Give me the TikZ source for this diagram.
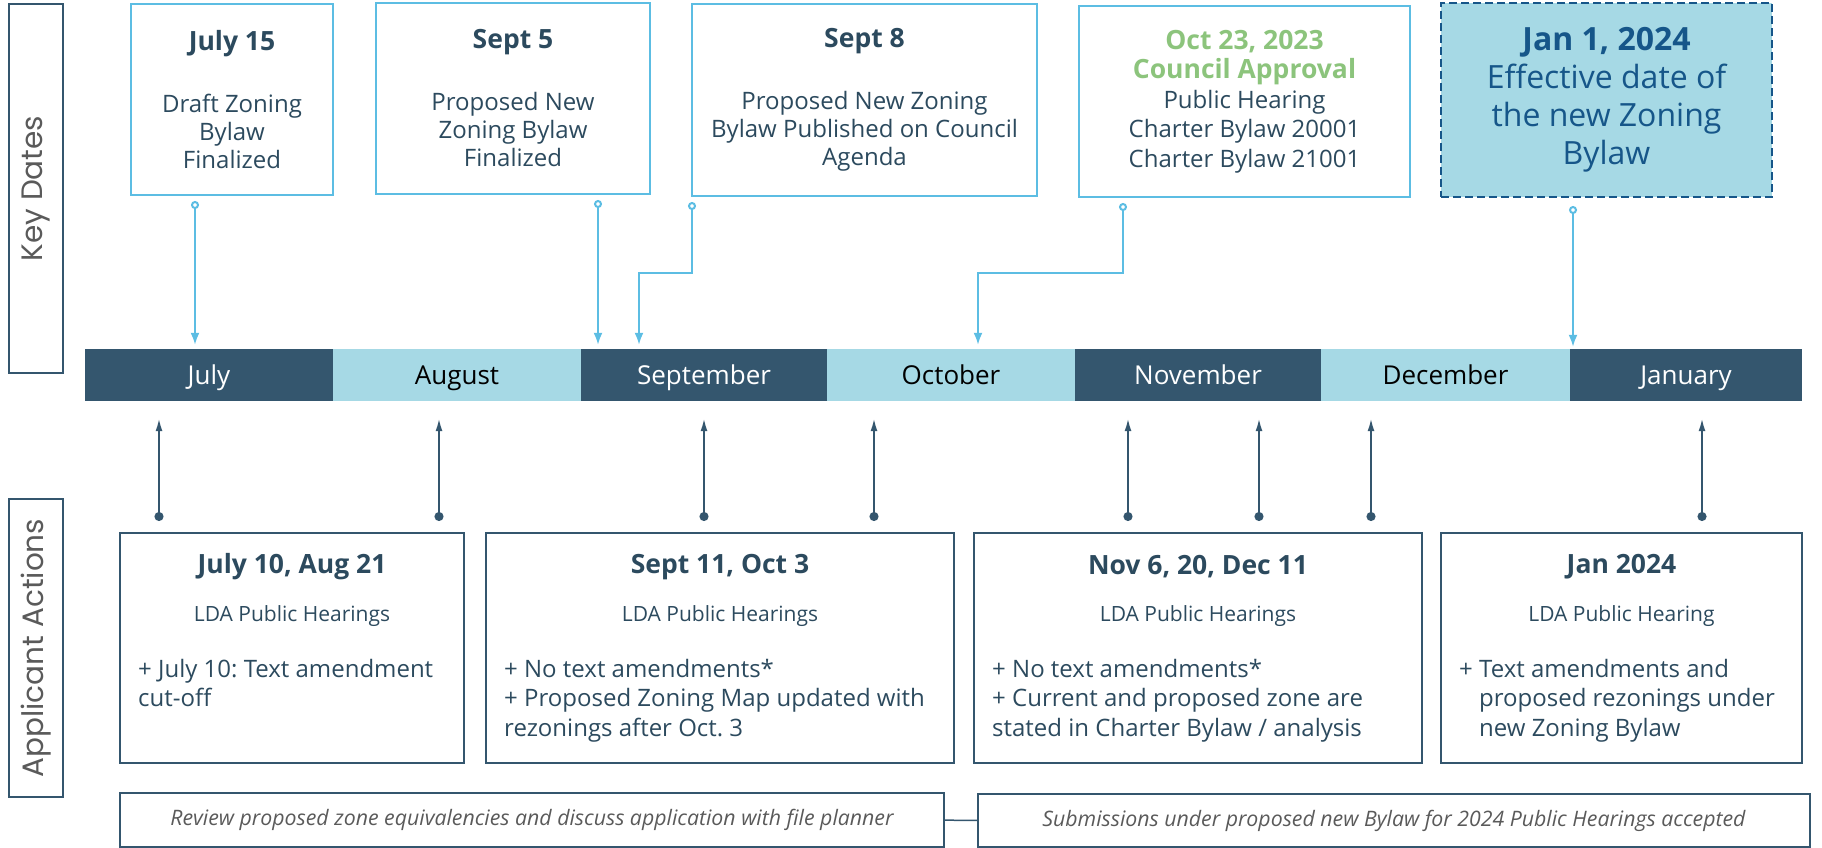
\documentclass[tikz,border=0pt]{standalone}
\usepackage{fontspec}
\setmainfont{Open Sans}
\newfontfamily\sidefont{Poppins}
\usetikzlibrary{arrows.meta}
\frenchspacing

\definecolor{navy}{HTML}{34566E}
\definecolor{paleblue}{HTML}{A6D9E5}
\definecolor{skyline}{HTML}{5CBDE3}
\definecolor{inkdark}{HTML}{2C4A5E}
\definecolor{approvegreen}{HTML}{8CC47C}
\definecolor{effblue}{HTML}{165689}
\definecolor{notegray}{HTML}{5A5A5A}

\newcommand{\datehead}[1]{{\fontsize{26.5}{30}\selectfont\bfseries #1}}
\newcommand{\greenhead}[1]{{\fontsize{26.5}{30}\selectfont\color{approvegreen}\bfseries #1}}

\begin{document}
\begin{tikzpicture}[x=1pt,y=-1pt,
    sidebox/.style={draw=navy, line width=2pt, rotate=90, minimum height=54pt,
      text=notegray, font=\sidefont\fontsize{29.5}{36}\selectfont},
    keybox/.style={draw=skyline, line width=2pt, fill=white, align=center, text=inkdark,
      inner sep=0pt, font=\fontsize{24}{28}\selectfont},
    monthbar/.style={minimum height=52pt, inner sep=0pt, text height=22pt, text depth=3pt,
      font=\fontsize{26}{30}\selectfont},
    actbox/.style={draw=navy, line width=2pt, minimum height=230pt, inner sep=0pt},
    acthead/.style={text=inkdark, inner sep=0pt, font=\fontsize{26.5}{30}\selectfont\bfseries},
    actsub/.style={text=inkdark, inner sep=0pt, font=\fontsize{21}{24}\selectfont},
    actlist/.style={text=inkdark, inner sep=0pt, anchor=north west, align=left,
      font=\fontsize{24}{29.5}\selectfont},
    notebox/.style={draw=navy, line width=2pt, text=notegray, inner sep=0pt,
      font=\fontsize{21.3}{24}\selectfont\itshape},
    keyline/.style={draw=skyline, line width=2pt,
      {Circle[fill=white, length=8pt, width=8pt]}-{Latex[length=12pt, width=9pt]},
      shorten <=5pt, shorten >=4pt},
    actline/.style={draw=navy, line width=2pt,
      {Circle[length=9pt, width=9pt]}-{Latex[length=13pt, width=7pt]},
      shorten <=11pt, shorten >=17pt}]

  \useasboundingbox (0,0) rectangle (1822,848);

  % row labels
  \node[sidebox, minimum width=369pt] (keylab) at (36,188.5) {Key Dates};
  \node[sidebox, minimum width=298pt] (actlab) at (36,648) {Applicant Actions};

  % month bar
  \foreach \lft/\rgt/\mname/\bg/\fg [count=\i] in {85/333/July/navy/white,
      333/581/August/paleblue/black, 581/827/September/navy/white,
      827/1075/October/paleblue/black, 1075/1321/November/navy/white,
      1321/1570/December/paleblue/black, 1570/1802/January/navy/white}
  {
    \node[monthbar, fill=\bg, text=\fg, minimum width={(\rgt-\lft)*1pt}]
      (m\i) at ({(\lft+\rgt)/2},375) {\mname};
  }

  % key dates
  \node[keybox, minimum width=202pt, minimum height=191pt] (t1) at (232,99.5)
    {\datehead{July 15}\\[34pt]Draft Zoning\\Bylaw\\Finalized};
  \node[keybox, minimum width=274pt, minimum height=191pt] (t2) at (513,98.5)
    {\datehead{Sept 5}\\[34pt]Proposed New\\Zoning Bylaw\\Finalized};
  \node[keybox, minimum width=345pt, minimum height=192pt] (t3) at (864.5,100)
    {\datehead{Sept 8}\\[34pt]Proposed New Zoning\\Bylaw Published on Council\\Agenda};
  \node[keybox, minimum width=331pt, minimum height=191pt,
    font=\fontsize{24}{29.5}\selectfont] (t4) at (1244.5,101.5)
    {\greenhead{Oct 23, 2023}\\\greenhead{Council Approval}\\Public Hearing\\Charter Bylaw 20001\\Charter Bylaw 21001};
  \node[keybox, fill=paleblue, draw=effblue, dash pattern=on 8pt off 4pt, text=effblue,
    minimum width=331pt, minimum height=194pt, font=\fontsize{32}{38}\selectfont]
    (t5) at (1606.5,100)
    {{\bfseries Jan 1, 2024}\\Effective date of\\the new Zoning\\Bylaw};

  \coordinate (bend3) at (639,273);
  \coordinate (bend4) at (978,273);

  \draw[keyline] ([xshift=-37pt]t1.south) coordinate (k) -- (k |- m1.north);
  \draw[keyline] ([xshift=85pt]t2.south) coordinate (k) -- (k |- m3.north);
  \draw[keyline] ([xshift=1pt]t3.south west) |- (bend3) -- (bend3 |- m3.north);
  \draw[keyline] ([xshift=45pt]t4.south west) |- (bend4) -- (bend4 |- m4.north);
  \draw[keyline, shorten <=8pt, shorten >=2pt] ([xshift=-33.5pt]t5.south) coordinate (k) -- (k |- m7.north);

  % applicant actions
  \node[actbox, minimum width=344pt] (act1) at (292,648) {};
  \node[actbox, minimum width=468pt] (act2) at (720,648) {};
  \node[actbox, minimum width=448pt] (act3) at (1198,648) {};
  \node[actbox, minimum width=361pt] (act4) at (1621.5,648) {};

  \node[acthead] (act1h) at (292,567) {July 10, Aug 21};
  \node[acthead] (act2h) at (720,567) {Sept 11, Oct 3};
  \node[acthead] (act3h) at (1198,567) {Nov 6, 20, Dec 11};
  \node[acthead] (act4h) at (1621.5,567) {Jan 2024};

  \node[actsub] (act1s) at (292,616) {LDA Public Hearings};
  \node[actsub] (act2s) at (720,616) {LDA Public Hearings};
  \node[actsub] (act3s) at (1198,616) {LDA Public Hearings};
  \node[actsub] (act4s) at (1621.5,616) {LDA Public Hearing};

  \node[actlist] (act1b) at (138,659) {+ July 10: Text amendment\\cut-off};
  \node[actlist] (act2b) at (504,659)
    {+ No text amendments*\\+ Proposed Zoning Map updated with\\rezonings after Oct. 3};
  \node[actlist] (act3b) at (992,659)
    {+ No text amendments*\\+ Current and proposed zone are\\stated in Charter Bylaw / analysis};
  \node[actlist] (act4b) at (1459,659)
    {+ Text amendments and\\\phantom{+ }proposed rezonings under\\\phantom{+ }new Zoning Bylaw};

  \foreach \act/\dx in {act1/-133, act1/147, act2/-16, act2/154,
      act3/-70, act3/61, act3/173, act4/80.5}
  {
    \draw[actline] ([xshift=\dx pt]\act.north) coordinate (foot) -- (foot |- m1.south);
  }

  % notes along the bottom
  \node[notebox, minimum width=824pt, minimum height=54pt] (review) at (532,820)
    {Review proposed zone equivalencies and discuss application with file planner};
  \node[notebox, minimum width=832pt, minimum height=53pt] (submit) at (1394,820.5)
    {Submissions under proposed new Bylaw for 2024 Public Hearings accepted};
  \draw[navy, line width=1.5pt] (review) -- (submit);

\end{tikzpicture}
\end{document}
